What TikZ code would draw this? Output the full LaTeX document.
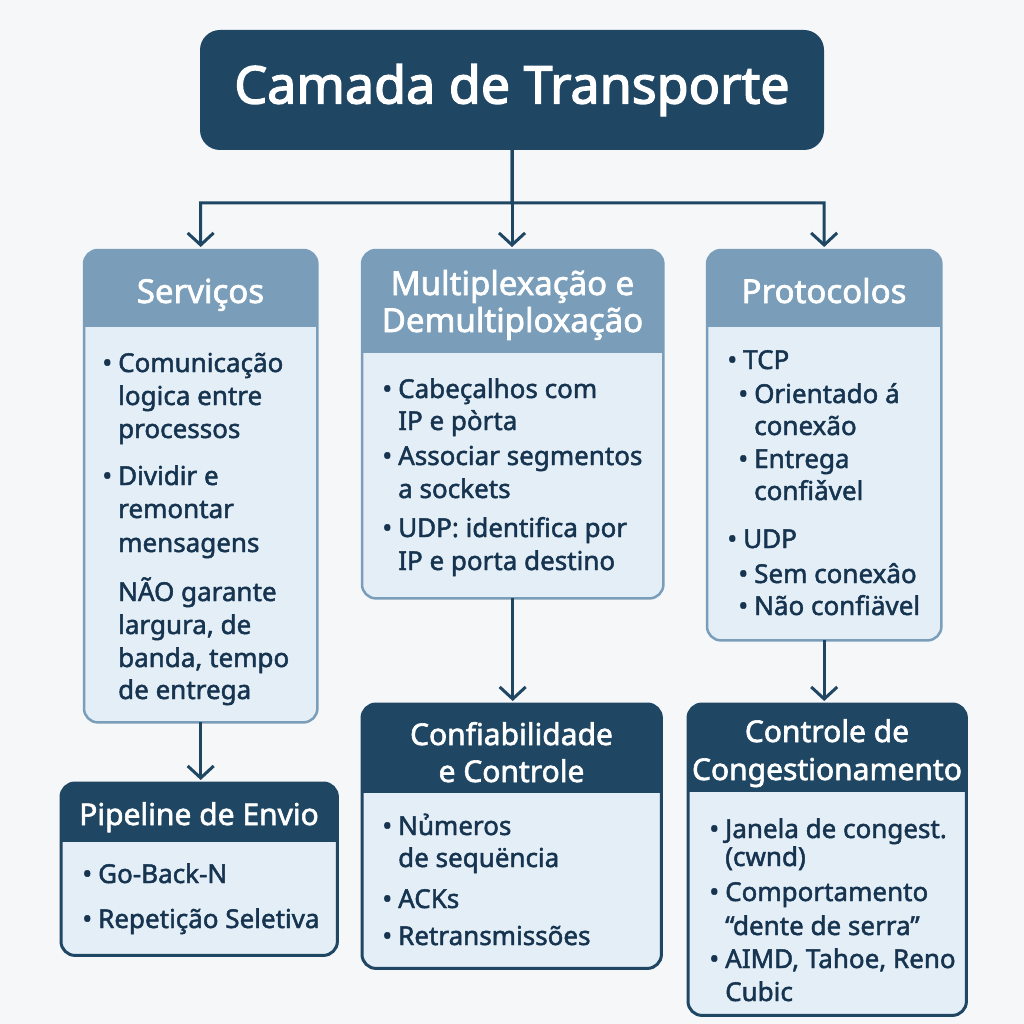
\documentclass[tikz,border=0pt]{standalone}
\usepackage{fontspec}
\setmainfont{Noto Sans}
\newfontfamily\medf{Noto Sans}[FakeBold=1.8]
\newfontfamily\hdf{Noto Sans}[FakeBold=2.0]
\newfontfamily\ttlf{Noto Sans}[FakeBold=2.6]
\usetikzlibrary{arrows.meta}
\definecolor{navy}{HTML}{1F4763}
\definecolor{hdr}{HTML}{7A9EBA}
\definecolor{bodyc}{HTML}{E3EEF6}
\definecolor{txt}{HTML}{163450}
\definecolor{bgc}{HTML}{F6F7F9}
\tikzset{
  frame/.style={fill=bodyc, inner sep=0pt, anchor=north west, rounded corners=14pt},
  lighthd/.style={fill=hdr},
  darkhd/.style={fill=navy},
  lightbd/.style={draw=hdr, line width=2.5pt},
  darkbd/.style={draw=navy, line width=3pt},
  titlebox/.style={fill=navy, text=white, rounded corners=20pt, inner sep=0pt,
    minimum width=624pt, minimum height=120pt,
    font=\ttlf\fontsize{52}{60}\selectfont},
  bt/.style={anchor=base west, inner sep=0pt, text=txt, font=\medf\fontsize{26}{30}\selectfont},
  ht/.style={anchor=base, inner sep=0pt, text=white, font=\hdf\fontsize{33}{38}\selectfont},
  hts/.style={anchor=base, inner sep=0pt, text=white, font=\hdf\fontsize{30}{36}\selectfont},
  ar/.style={draw=navy, line width=3pt, -{Straight Barb[length=12pt, width=26pt, line width=3pt]}, shorten >=3pt},
}
\newcommand\mkbox[7]{%
  \node[frame, minimum width={#4-#2}, minimum height={#5-#3}] (#1) at (#2,#3) {};
  \begin{scope}
    \clip[rounded corners=14pt] (#1.south west) rectangle (#1.north east);
    \fill[#7hd] (#1.north west) rectangle (#4,#6);
  \end{scope}
  \draw[#7bd, rounded corners=14pt] (#1.south west) rectangle (#1.north east);
}
\newcommand\bul{\llap{•\hspace{6pt}}}
\begin{document}
\begin{tikzpicture}[x=1pt, y=-1pt]
\fill[bgc] (0,0) rectangle (1024,1024);
\useasboundingbox (0,0) rectangle (1024,1024);

% title
\node[titlebox] (title) at (512,90) {Camada de Transporte};

% boxes
\mkbox{serv}{84}{250}{317}{722}{327}{light}
\mkbox{mux}{362}{250}{663}{598}{353}{light}
\mkbox{prot}{707}{250}{941}{640}{327}{light}
\mkbox{pipe}{61}{783}{337}{955}{842}{dark}
\mkbox{conf}{362}{704}{661}{968}{793}{dark}
\mkbox{ctrl}{688}{704}{966}{1015}{792}{dark}

% connectors
\coordinate (jl) at (200.5,203);
\coordinate (jr) at (824,203);
\draw[ar] (title.south) |- (jl) -- (serv.north);
\draw[ar] (title.south) |- (jr) -- (prot.north);
\draw[ar] (title.south) -- (title.south |- mux.north);
\draw[ar] (serv.south) -- (serv.south |- pipe.north);
\draw[ar] (mux.south) -- (mux.south |- conf.north);
\draw[ar] (prot.south) -- (prot.south |- ctrl.north);

% headers
\node[ht] (hs) at (200.5,303) {Serviços};
\node[ht] (hm1) at (512.5,295) {Multiplexação e};
\node[ht] (hm2) at (512.5,332) {Demultiploxação};
\node[ht] (hp) at (824,303) {Protocolos};
\node[hts] (hpi) at (199,825) {Pipeline de Envio};
\node[hts] (hc1) at (511.5,745) {Confiabilidade};
\node[hts] (hc2) at (511.5,782) {e Controle};
\node[hts] (hk1) at (827,742) {Controle de};
\node[hts] (hk2) at (827,780) {Congestionamento};

% Servicos body
\node[bt] (s1) at (118,372) {\bul Comunicação};
\node[bt] (s2) at (118,405) {logica entre};
\node[bt] (s3) at (118,438) {processos};
\node[bt] (s4) at (118,485) {\bul Dividir e};
\node[bt] (s5) at (118,518) {remontar};
\node[bt] (s6) at (118,552) {mensagens};
\node[bt] (s7) at (118,601) {NÃO garante};
\node[bt] (s8) at (118,634) {largura, de};
\node[bt] (s9) at (118,667) {banda, tempo};
\node[bt] (s10) at (118,699) {de entrega};

% Mux body
\node[bt] (m1) at (398,398) {\bul Cabeçalhos com};
\node[bt] (m2) at (398,430) {IP e pòrta};
\node[bt] (m3) at (398,465) {\bul Associar segmentos};
\node[bt] (m4) at (398,498) {a sockets};
\node[bt] (m5) at (398,537) {\bul UDP: identifica por};
\node[bt] (m6) at (398,570) {IP e porta destino};

% Protocolos body
\node[bt] (p1) at (743,369) {\bul TCP};
\node[bt] (p2) at (754,403) {\bul Orientado á};
\node[bt] (p3) at (754,435) {conexão};
\node[bt] (p4) at (754,468) {\bul Entrega};
\node[bt] (p5) at (754,500) {confiǎvel};
\node[bt] (p6) at (743,548) {\bul UDP};
\node[bt] (p7) at (754,583) {\bul Sem conexâo};
\node[bt] (p8) at (754,615) {\bul Não confiävel};

% Pipeline body
\node[bt] (q1) at (98,883) {\bul Go-Back-N};
\node[bt] (q2) at (98,928) {\bul Repetição Seletiva};

% Confiabilidade body
\node[bt] (c1) at (398,835) {\bul Nủmeros};
\node[bt] (c2) at (398,867) {de sequëncia};
\node[bt] (c3) at (398,908) {\bul ACKs};
\node[bt] (c4) at (398,945) {\bul Retransmissões};

% Controle body
\node[bt] (k1) at (725,838) {\bul Janela de congest.};
\node[bt] (k2) at (725,866) {(cwnd)};
\node[bt] (k3) at (725,901) {\bul Comportamento};
\node[bt] (k4) at (725,935) {“dente de serra”};
\node[bt] (k5) at (725,968) {\bul AIMD, Tahoe, Reno};
\node[bt] (k6) at (725,1001) {Cubic};
\end{tikzpicture}
\end{document}
